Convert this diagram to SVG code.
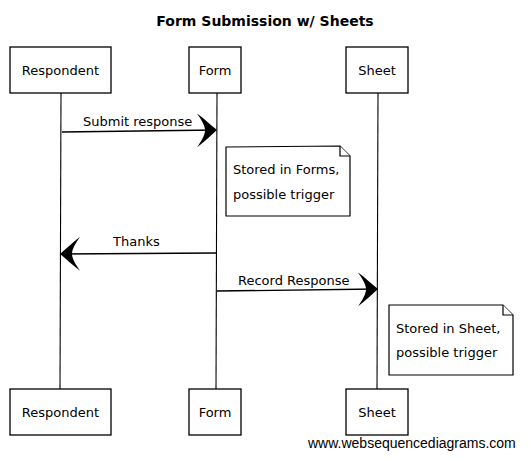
<svg xmlns="http://www.w3.org/2000/svg" width="529" height="459" viewBox="0 0 529 459">
<style>
.box{fill:#fff;stroke:#000;stroke-width:1.3}
.life{fill:none;stroke:#000;stroke-width:1.1}
.msg{fill:none;stroke:#000;stroke-width:1.3}
.note{fill:#fff;stroke:#000;stroke-width:1.2}
.t{font-family:"DejaVu Sans","Liberation Sans",sans-serif;font-size:13px;fill:#000}
.title{font-family:"DejaVu Sans","Liberation Sans",sans-serif;font-size:14px;font-weight:bold;fill:#000}
.wm{font-family:"Liberation Sans",Arial,sans-serif;font-size:14px;fill:#000}
</style>
<defs>
<marker id="ah" viewBox="0 0 20 34" refX="19" refY="17" markerWidth="20" markerHeight="34" markerUnits="userSpaceOnUse" orient="auto">
<path d="M0,0 C8,6 14,12 20,17 C14,22 8,28 0,34 C4,28 8,22 8,17 C8,12 4,6 0,0 Z" fill="#000"/>
</marker>
</defs>
<text class="title" x="265" y="26" text-anchor="middle">Form Submission w/ Sheets</text>
<g id="lifelines">
<path class="life" d="M61,93 L60,389"/>
<path class="life" d="M217,93 L216,389"/>
<path class="life" d="M378,93 L377,389"/>
</g>
<g id="respondent-top"><rect class="box" x="10" y="47" width="101" height="46"/><text class="t" x="60.5" y="75" text-anchor="middle">Respondent</text></g>
<g id="form-top"><rect class="box" x="189" y="47" width="52" height="46"/><text class="t" x="215" y="75" text-anchor="middle">Form</text></g>
<g id="sheet-top"><rect class="box" x="346" y="47" width="62" height="46"/><text class="t" x="377" y="75" text-anchor="middle">Sheet</text></g>
<g id="respondent-bottom"><rect class="box" x="10" y="389" width="101" height="46"/><text class="t" x="60.5" y="417" text-anchor="middle">Respondent</text></g>
<g id="form-bottom"><rect class="box" x="189" y="389" width="52" height="46"/><text class="t" x="215" y="417" text-anchor="middle">Form</text></g>
<g id="sheet-bottom"><rect class="box" x="346" y="389" width="62" height="46"/><text class="t" x="377" y="417" text-anchor="middle">Sheet</text></g>
<g id="connectors">
<path class="msg" d="M62,132 L216,130" marker-end="url(#ah)"/>
<text class="t" x="83" y="126">Submit response</text>
<path class="msg" d="M216,253 L61,254" marker-end="url(#ah)"/>
<text class="t" x="113" y="246">Thanks</text>
<path class="msg" d="M217,291 L377,289" marker-end="url(#ah)"/>
<text class="t" x="238" y="285">Record Response</text>
</g>
<g id="note-forms">
<path class="note" d="M226,147 L340,146 L350,156 L350,216 L226,216 Z"/>
<path class="note" d="M340,146 L340,156 L350,156"/>
<text class="t" x="233" y="174">Stored in Forms,</text>
<text class="t" x="233" y="199">possible trigger</text>
</g>
<g id="note-sheet">
<path class="note" d="M389,305 L503,305 L513,315 L513,375 L389,375 Z"/>
<path class="note" d="M503,305 L503,315 L513,315"/>
<text class="t" x="396" y="333">Stored in Sheet,</text>
<text class="t" x="396" y="357">possible trigger</text>
</g>
<text class="wm" x="308" y="448">www.websequencediagrams.com</text>
</svg>
